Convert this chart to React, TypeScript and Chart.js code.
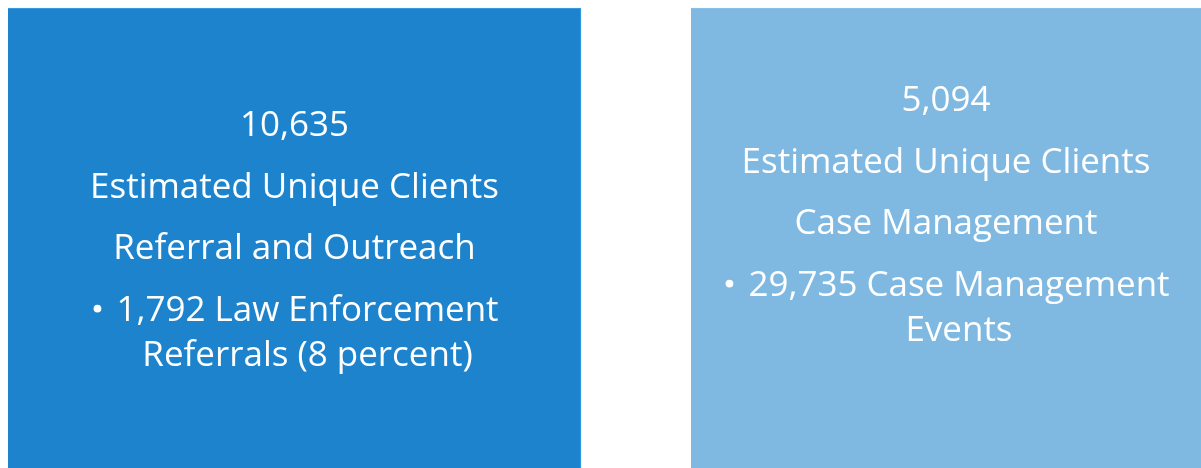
import React, { useEffect, useRef } from "react";
import { Chart, registerables } from "chart.js";

Chart.register(...registerables);

// ---- data ----
const categories = ["Referral and Outreach", "Case Management"];
const clientCounts = ["10,635", "5,094"];
const clientLabel = "Estimated Unique Clients";
const bulletLines = [
  ["1,792 Law Enforcement", "Referrals (8 percent)"],
  ["29,735 Case Management", "Events"],
];
const boxValues = [1, 1];
const boxColors = ["#1E83CD", "#7FB8E1"];
const boxEdgeColors = ["#42A1E6", "#8CC2E8"];
const boxWidths = [573, 510];
const firstBaselines = [136, 111];

const FONT_FAMILY = '"Open Sans", "Noto Sans", sans-serif';
const TARGET_LABEL_WIDTH = 409;
const PARA_GAP = 61.7;
const WRAP_GAP = 45;

const textPlugin = {
  id: "boxText",
  afterDatasetsDraw(chart: any) {
    const ctx: CanvasRenderingContext2D = chart.ctx;
    ctx.save();
    ctx.font = `100px ${FONT_FAMILY}`;
    const size = (100 * TARGET_LABEL_WIDTH) / ctx.measureText(clientLabel).width;
    ctx.font = `${size}px ${FONT_FAMILY}`;
    ctx.fillStyle = "#FFFFFF";
    ctx.textBaseline = "alphabetic";
    chart.data.datasets.forEach((_ds: any, di: number) => {
      const meta = chart.getDatasetMeta(di);
      const bar = meta.data[di];
      if (!bar) return;
      const cx = bar.x;
      let y = firstBaselines[di];
      const paras = [clientCounts[di], clientLabel, categories[di]];
      ctx.textAlign = "center";
      paras.forEach((t) => {
        ctx.fillText(t, cx, y);
        y += PARA_GAP;
      });
      const bx = cx + 13;
      const lines = bulletLines[di];
      lines.forEach((t, li) => {
        ctx.textAlign = "center";
        ctx.fillText(t, bx, y);
        if (li === 0) {
          const w = ctx.measureText(t).width;
          ctx.beginPath();
          ctx.arc(bx - w / 2 - 19, y - 12.5, 3.9, 0, Math.PI * 2);
          ctx.fill();
        }
        y += WRAP_GAP;
      });
    });
    ctx.restore();
  },
};

export default function App() {
  const ref = useRef<HTMLCanvasElement | null>(null);
  useEffect(() => {
    document.body.style.margin = "0";
    const canvas = ref.current;
    if (!canvas) return;
    const chart = new Chart(canvas, {
      type: "bar",
      data: {
        labels: categories,
        datasets: categories.map((c, i) => ({
          label: c,
          data: categories.map((_, j) => (j === i ? boxValues[i] : null)),
          backgroundColor: boxColors[i],
          borderColor: boxEdgeColors[i],
          borderWidth: i === 0 ? { top: 1, right: 1, left: 0, bottom: 0 } : { top: 1, right: 0, left: 0, bottom: 0 },
          borderSkipped: false,
          barThickness: boxWidths[i],
          grouped: false,
          clip: false as any,
        })),
      },
      options: {
        animation: false,
        responsive: false,
        maintainAspectRatio: false,
        events: [],
        layout: { padding: { left: 294.5, right: 255, top: 8, bottom: 0 } },
        plugins: { legend: { display: false }, tooltip: { enabled: false } },
        scales: {
          x: { type: "category", offset: false, display: false, grid: { display: false } },
          y: { min: 0, max: 1, display: false, grid: { display: false } },
        },
      },
      plugins: [textPlugin],
    });
    return () => chart.destroy();
  }, []);
  return (
    <div style={{ width: 1201, height: 468, background: "#FFFFFF" }}>
      <canvas ref={ref} width={1201} height={468} style={{ display: "block" }} />
    </div>
  );
}
